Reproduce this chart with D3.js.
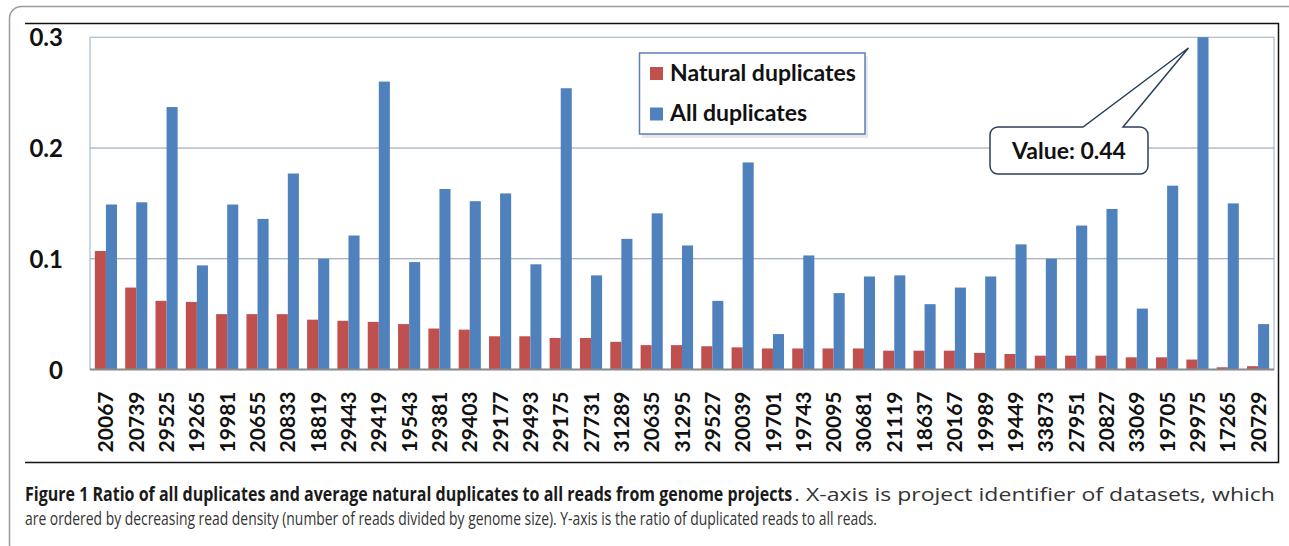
<!DOCTYPE html>
<html><head><meta charset="utf-8">
<script src="https://cdn.jsdelivr.net/npm/d3@7"></script>
<style>
html,body{margin:0;padding:0;background:#fff;}
svg{display:block;}
</style></head>
<body>
<svg id="chart" width="1289" height="546"></svg>
<script>
const categories = ["20067","20739","29525","19265","19981","20655","20833","18819","29443","29419","19543","29381","29403","29177","29493","29175","27731","31289","20635","31295","29527","20039","19701","19743","20095","30681","21119","18637","20167","19989","19449","33873","27951","20827","33069","19705","29975","17265","20729"];
const naturalDuplicates = [0.107,0.074,0.062,0.061,0.050,0.050,0.050,0.045,0.044,0.043,0.041,0.037,0.036,0.030,0.030,0.0285,0.0285,0.025,0.022,0.022,0.021,0.020,0.019,0.019,0.019,0.019,0.017,0.017,0.017,0.015,0.014,0.0125,0.0125,0.0125,0.011,0.011,0.009,0.002,0.003];
const allDuplicates = [0.149,0.151,0.237,0.094,0.149,0.136,0.177,0.100,0.121,0.260,0.097,0.163,0.152,0.159,0.095,0.254,0.085,0.118,0.141,0.112,0.062,0.187,0.032,0.103,0.069,0.084,0.085,0.059,0.074,0.084,0.113,0.100,0.130,0.145,0.055,0.166,0.44,0.150,0.041];
const seriesNames = ["Natural duplicates","All duplicates"];
const seriesColors = ["#C0504D","#4F81BD"];
const yTickValues = [0,0.1,0.2,0.3];
const yTickLabels = ["0","0.1","0.2","0.3"];
const calloutText = "Value: 0.44";
const captionBold = "Figure 1 Ratio of all duplicates and average natural duplicates to all reads from genome projects";
const captionRest = ". X-axis is project identifier of datasets, which";
const captionLine2 = "are ordered by decreasing read density (number of reads divided by genome size). Y-axis is the ratio of duplicated reads to all reads.";

const svg = d3.select("#chart");
const plot = {left:90, right:1274, top:37.3, bottom:369.5};
const chartFont = "Lato, 'Open Sans', sans-serif";

// outer figure frame
svg.append("rect").attr("x",9.5).attr("y",6.5).attr("width",1290).attr("height",550)
  .attr("rx",12).attr("fill","none").attr("stroke","#9a9a9a").attr("stroke-width",1.5);
// image frame (top, right, bottom)
svg.append("path").attr("d","M25,23.5H1278.5V462.5H25")
  .attr("fill","none").attr("stroke","#111").attr("stroke-width",1.5);

const x = d3.scaleBand().domain(categories).range([plot.left, plot.right]).paddingInner(0.27).paddingOuter(0.16);
const xs = d3.scaleBand().domain(seriesNames).range([0, x.bandwidth()]);
const y = d3.scaleLinear().domain([0,0.3]).range([plot.bottom, plot.top]);

// plot border
svg.append("rect").attr("x",plot.left).attr("y",plot.top).attr("width",plot.right-plot.left).attr("height",plot.bottom-plot.top)
  .attr("fill","none").attr("stroke","#a9bcd1").attr("stroke-width",1.2);

// gridlines
svg.append("g").selectAll("line").data([0.1,0.2]).join("line")
  .attr("x1",plot.left).attr("x2",plot.right).attr("y1",d=>y(d)).attr("y2",d=>y(d))
  .attr("stroke","#8c9bab").attr("stroke-width",1);

// clip
svg.append("clipPath").attr("id","clip").append("rect")
  .attr("x",plot.left).attr("y",plot.top).attr("width",plot.right-plot.left).attr("height",plot.bottom-plot.top);

const data = categories.map((c,i)=>({c, vals:[naturalDuplicates[i], allDuplicates[i]]}));
const bars = svg.append("g").attr("clip-path","url(#clip)");
data.forEach(d=>{
  d.vals.forEach((v,j)=>{
    bars.append("rect")
      .attr("x", x(d.c)+xs(seriesNames[j]))
      .attr("width", xs.bandwidth())
      .attr("y", y(v))
      .attr("height", plot.bottom - y(v))
      .attr("fill", seriesColors[j]);
  });
});

// zero axis line
svg.append("line").attr("x1",plot.left).attr("x2",plot.right).attr("y1",y(0)).attr("y2",y(0))
  .attr("stroke","#8a8a8a").attr("stroke-width",2);

// y axis
const yAxis = d3.axisLeft(y).tickValues(yTickValues).tickSize(0).tickFormat((d,i)=>yTickLabels[i]);
const gy = svg.append("g").attr("transform",`translate(63,0)`).call(yAxis);
gy.select(".domain").remove();
gy.selectAll("text").attr("x",0).attr("dy","0.36em")
  .style("font-family",chartFont).style("font-weight","700").style("font-size","24px").attr("fill","#111");

// x axis
const xAxis = d3.axisBottom(x).tickSize(0);
const gx = svg.append("g").attr("transform",`translate(0,${plot.bottom})`).call(xAxis);
gx.select(".domain").remove();
gx.selectAll("text")
  .attr("transform","rotate(-90)")
  .attr("x",-22).attr("y",0).attr("dy","0.36em")
  .attr("text-anchor","end")
  .style("font-family",chartFont).style("font-weight","700").style("font-size","21px").attr("fill","#111");

// legend
const lg = svg.append("g");
lg.append("rect").attr("x",642).attr("y",56).attr("width",226).attr("height",82).attr("fill","#d9d9d9").attr("opacity",0.6);
lg.append("rect").attr("x",639.5).attr("y",53).attr("width",225.5).attr("height",81)
  .attr("fill","#fff").attr("stroke","#5a7fb5").attr("stroke-width",1.5);
seriesNames.forEach((s,i)=>{
  const yy = 67 + i*40.5;
  lg.append("rect").attr("x",650).attr("y",yy).attr("width",13).attr("height",13).attr("fill",seriesColors[i]);
  lg.append("text").attr("x",670).attr("y",yy+13.5).text(s)
    .style("font-family",chartFont).style("font-weight","700").style("font-size","23px").attr("fill","#111");
});

// callout
const tipX = x("29975") + xs("All duplicates") - 9;
const cg = svg.append("g");
const bx0=990, bx1=1148, by0=127, by1=174, r=8;
const p = d3.path();
p.moveTo(bx0+r,by0);
p.lineTo(1083,by0);
p.lineTo(tipX,48);
p.lineTo(1123,by0);
p.lineTo(bx1-r,by0);
p.arcTo(bx1,by0,bx1,by0+r,r);
p.lineTo(bx1,by1-r);
p.arcTo(bx1,by1,bx1-r,by1,r);
p.lineTo(bx0+r,by1);
p.arcTo(bx0,by1,bx0,by1-r,r);
p.lineTo(bx0,by0+r);
p.arcTo(bx0,by0,bx0+r,by0,r);
p.closePath();
cg.append("path").attr("d",p.toString()).attr("fill","#fff").attr("stroke","#2b3f5c").attr("stroke-width",1.5);
cg.append("text").attr("x",(bx0+bx1)/2).attr("y",158.5).attr("text-anchor","middle").text(calloutText)
  .style("font-family",chartFont).style("font-weight","700").style("font-size","23px").attr("fill","#111");

// caption: condensed bold title, first line filled to the right margin
const capFont = "'Open Sans', Lato, sans-serif";
const capSize = "19px";
const cap2 = svg.append("text").attr("x",0).attr("y",525).text(captionLine2)
  .style("font-family",capFont).style("font-weight","400").style("font-size",capSize).attr("fill","#333");
const sx = 853 / cap2.node().getComputedTextLength();
cap2.attr("transform",`translate(25,0) scale(${sx},1)`);
const capB = svg.append("text").attr("x",0).attr("y",501).text(captionBold)
  .style("font-family",capFont).style("font-weight","700").style("font-size",capSize).attr("fill","#1a1a1a");
const sxb = 768 / capB.node().getComputedTextLength();
capB.attr("transform",`translate(25,0) scale(${sxb},1)`);
svg.append("text").attr("x",794).attr("y",501).text(captionRest)
  .attr("textLength",481).attr("lengthAdjust","spacingAndGlyphs")
  .style("font-family",capFont).style("font-weight","400").style("font-size",capSize).attr("fill","#333");
</script>
</body></html>
